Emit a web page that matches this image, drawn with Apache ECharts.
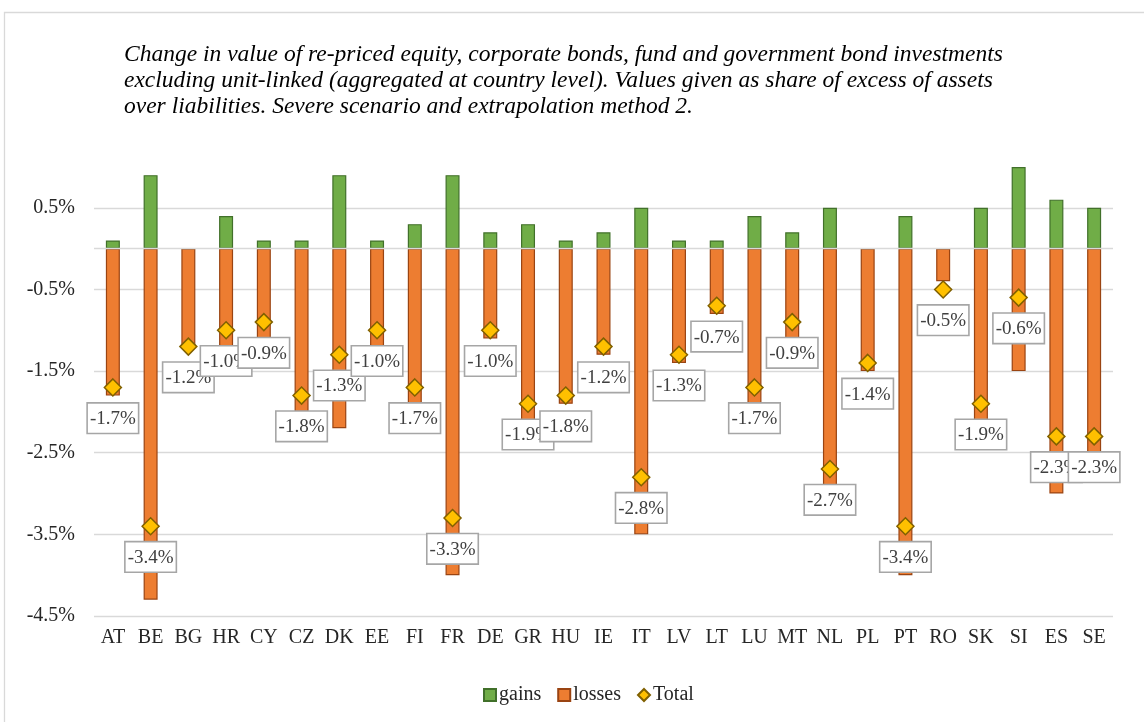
<!DOCTYPE html>
<html>
<head>
<meta charset="utf-8">
<title>Re-priced investments, severe scenario</title>
<script src="https://cdn.jsdelivr.net/npm/echarts@6/dist/echarts.min.js"></script>
<style>
  html, body { margin: 0; padding: 0; background: #fff; }
  #chart01 { width: 1144px; height: 722px; }
</style>
</head>
<body>
<div id="chart01"></div>
<script>
// values in % of excess of assets over liabilities
var countries = ['AT','BE','BG','HR','CY','CZ','DK','EE','FI','FR','DE','GR','HU','IE','IT','LV','LT','LU','MT','NL','PL','PT','RO','SK','SI','ES','SE'];
var gains  = [0.1, 0.9, 0, 0.4, 0.1, 0.1, 0.9, 0.1, 0.3, 0.9, 0.2, 0.3, 0.1, 0.2, 0.5, 0.1, 0.1, 0.4, 0.2, 0.5, 0, 0.4, 0, 0.5, 1.0, 0.6, 0.5];
var losses = [-1.8, -4.3, -1.2, -1.4, -1.1, -2.0, -2.2, -1.2, -2.0, -4.0, -1.1, -2.2, -1.9, -1.3, -3.5, -1.4, -0.8, -2.1, -1.1, -3.2, -1.5, -4.0, -0.4, -2.4, -1.5, -3.0, -2.8];
var total  = [-1.7, -3.4, -1.2, -1.0, -0.9, -1.8, -1.3, -1.0, -1.7, -3.3, -1.0, -1.9, -1.8, -1.2, -2.8, -1.3, -0.7, -1.7, -0.9, -2.7, -1.4, -3.4, -0.5, -1.9, -0.6, -2.3, -2.3];
var yTicks = [-4.5, 1.0, 1]; // min, max, interval

var titleText = 'Change in value of re-priced equity, corporate bonds, fund and government bond investments\n' +
    'excluding unit-linked (aggregated at country level). Values given as share of excess of assets\n' +
    'over liabilities. Severe scenario and extrapolation method 2.';

var font = "'Liberation Serif', 'Times New Roman', serif";

var myChart = echarts.init(document.getElementById('chart01'));

var option = {
    animation: false,
    textStyle: { fontFamily: font },
    graphic: [{
        type: 'rect',
        shape: { x: 4.5, y: 12.5, width: 1160, height: 740 },
        style: { fill: 'none', stroke: '#d9d9d9', lineWidth: 1.3 },
        silent: true
    }],
    title: {
        text: titleText,
        left: 119,
        top: 37,
        textStyle: {
            fontFamily: font,
            fontStyle: 'italic',
            fontWeight: 'normal',
            fontSize: 23.5,
            lineHeight: 26,
            color: '#000'
        }
    },
    legend: {
        top: 680,
        left: 478,
        itemWidth: 12,
        itemHeight: 12,
        itemGap: 16,
        textStyle: { fontFamily: font, fontSize: 20, color: '#262626', padding: [0, 0, 0, -2] },
        data: [
            { name: 'gains', icon: 'rect' },
            { name: 'losses', icon: 'rect' },
            { name: 'Total', icon: 'diamond' }
        ]
    },
    grid: {
        left: 94,
        right: 31,
        top: 167,
        bottom: 106,
        containLabel: false
    },
    xAxis: {
        type: 'category',
        data: countries,
        axisLine: { show: false, onZero: false },
        axisTick: { show: false },
        axisLabel: { interval: 0, fontFamily: font, fontSize: 20, color: '#262626', margin: 12 }
    },
    yAxis: {
        type: 'value',
        min: yTicks[0],
        max: yTicks[1],
        interval: yTicks[2],
        axisLine: { show: false },
        axisTick: { show: false },
        axisLabel: {
            fontFamily: font,
            fontSize: 20,
            color: '#262626',
            margin: 19,
            showMaxLabel: false,
            formatter: function (v) {
                if (v > 0.9) return '';
                return v.toFixed(1) + '%';
            }
        },
        splitLine: { showMaxLine: false, lineStyle: { color: '#d9d9d9', width: 1.3 } }
    },
    series: [
        {
            name: 'gains',
            type: 'bar',
            stack: 'chg',
            barWidth: 14,
            data: gains,
            itemStyle: { color: '#70AD47', borderColor: '#41702a', borderWidth: 1.2 },
            markLine: {
                silent: true,
                symbol: 'none',
                label: { show: false },
                lineStyle: { color: '#d9d9d9', width: 1.3, type: 'solid' },
                data: [{ yAxis: 0 }]
            },
            z: 2
        },
        {
            name: 'losses',
            type: 'bar',
            stack: 'chg',
            barWidth: 14,
            data: losses,
            itemStyle: { color: '#ED7D31', borderColor: '#9a4412', borderWidth: 1.2 },
            z: 2
        },
        {
            name: 'Total',
            type: 'scatter',
            symbol: 'diamond',
            symbolSize: 17,
            data: total,
            itemStyle: { color: '#FFC000', borderColor: '#806000', borderWidth: 1.5, opacity: 1 },
            label: {
                show: true,
                position: 'bottom',
                distance: 7,
                formatter: function (p) { return p.value.toFixed(1) + '%'; },
                fontFamily: font,
                fontSize: 19,
                color: '#404040',
                backgroundColor: '#fff',
                borderColor: '#a6a6a6',
                borderWidth: 1.6,
                padding: [6, 2, 4, 2]
            },
            z: 3
        }
    ]
};
myChart.setOption(option);
</script>
</body>
</html>
